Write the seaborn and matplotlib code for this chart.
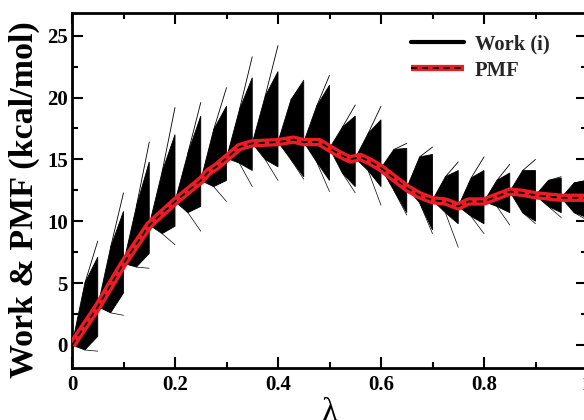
import numpy as np
import pandas as pd
import matplotlib
matplotlib.use("Agg")
import matplotlib.pyplot as plt
from matplotlib.lines import Line2D
from matplotlib.ticker import MultipleLocator, FuncFormatter
import seaborn as sns

# ---- data ----
pmf_lambda = [0.0, 0.05, 0.10, 0.15, 0.20, 0.25, 0.265, 0.28, 0.30, 0.325, 0.35, 0.40,
              0.43, 0.45, 0.48, 0.50, 0.52, 0.54, 0.55, 0.56, 0.58, 0.60, 0.625, 0.65,
              0.675, 0.70, 0.725, 0.75, 0.77, 0.80, 0.825, 0.85, 0.875, 0.90, 0.95, 1.0]
pmf_value = [0.0, 3.1, 6.6, 9.7, 11.6, 13.3, 14.0, 14.4, 15.1, 16.0, 16.3, 16.4,
             16.6, 16.4, 16.4, 15.9, 15.4, 15.0, 15.1, 15.2, 14.8, 14.3, 13.5, 12.7,
             12.1, 11.7, 11.6, 11.2, 11.6, 11.6, 12.0, 12.4, 12.3, 12.1, 11.9, 11.9]

# work fans, one per window of width 0.05 (values at window start, middle and end)
win_start = [0.00, 0.05, 0.10, 0.15, 0.20, 0.25, 0.30, 0.35, 0.40, 0.45,
             0.50, 0.55, 0.60, 0.65, 0.70, 0.75, 0.80, 0.85, 0.90, 0.95]
win_width = 0.05
fan_start = [0.0, 3.1, 6.6, 9.7, 11.6, 13.3, 15.1, 16.3, 16.4, 16.4,
             15.9, 15.1, 14.3, 12.7, 11.7, 11.2, 11.6, 12.4, 12.1, 11.9]
fan_top_mid = [5.0, 7.9, 11.2, 14.0, 15.5, 17.4, 19.0, 20.1, 19.8, 19.3,
               17.6, 17.1, 15.8, 15.2, 13.6, 13.5, 13.3, 14.1, 13.3, 13.1]
fan_top = [7.1, 10.8, 14.8, 17.0, 18.5, 19.3, 21.6, 22.1, 21.3, 21.0,
           18.5, 18.2, 15.9, 15.4, 14.1, 14.1, 13.9, 14.1, 13.5, 13.3]
fan_peak = [8.4, 12.3, 16.4, 19.2, 19.6, 20.8, 23.3, 24.2, 21.4, 21.8,
            19.4, 19.3, 16.3, 16.0, 14.8, 15.2, 14.6, 15.0, 13.6, 13.3]
fan_low_mid = [-0.4, 2.6, 6.3, 9.0, 10.7, 12.8, 14.7, 15.0, 15.0, 14.8,
               13.9, 14.1, 12.5, 11.5, 10.7, 10.4, 11.2, 10.7, 11.2, 10.7]
fan_low = [0.7, 4.2, 7.4, 9.6, 11.2, 13.3, 14.1, 14.4, 13.6, 13.3,
           12.8, 12.8, 10.7, 9.3, 9.8, 9.8, 10.7, 10.0, 10.7, 10.3]
fan_tail = [-0.5, 2.4, 6.2, 8.1, 9.2, 11.6, 12.8, 13.3, 13.4, 12.4,
            12.3, 11.3, 10.5, 9.0, 7.9, 9.0, 9.7, 9.8, 10.3, 10.1]

x_ticks = [0, 0.2, 0.4, 0.6, 0.8, 1.0]
y_ticks = [0, 5, 10, 15, 20, 25]

# ---- style ----
sns.set_theme(style="ticks")
plt.rcParams["font.family"] = ["Liberation Serif", "DejaVu Serif"]
plt.rcParams["font.weight"] = "bold"
plt.rcParams["axes.labelweight"] = "bold"

fig = plt.figure(figsize=(5.84, 4.20), dpi=100)
ax = fig.add_axes([72 / 584, 52 / 420, 515 / 584, 355.3 / 420])

# work fans
for x0, s, tm, t, p, lm, lo, tl in zip(win_start, fan_start, fan_top_mid, fan_top,
                                       fan_peak, fan_low_mid, fan_low, fan_tail):
    xm = x0 + win_width / 2
    x1 = x0 + win_width
    ax.fill([x0, xm, x1, x1, xm], [s, tm, t, lo, lm], color="black", lw=0.6, zorder=1)
    ax.plot([xm, x1], [tm, p], color="black", lw=0.6, zorder=1)
    ax.plot([xm, x1], [lm, tl], color="black", lw=0.5, zorder=1)

df = pd.DataFrame({"lam": pmf_lambda, "pmf": pmf_value})
sns.lineplot(data=df, x="lam", y="pmf", color="#ed1c24", lw=6, ax=ax, zorder=3,
             solid_capstyle="butt")
sns.lineplot(data=df, x="lam", y="pmf", color="black", lw=1.3, ax=ax, zorder=4,
             dashes=False, linestyle=(0, (3.5, 2.5)))

ax.set_xlim(0, 1)
ax.set_ylim(-1.86, 26.86)
ax.set_xticks(x_ticks)
ax.set_yticks(y_ticks)
ax.xaxis.set_minor_locator(MultipleLocator(0.1))
ax.yaxis.set_minor_locator(MultipleLocator(2.5))
ax.xaxis.set_major_formatter(FuncFormatter(lambda v, p: "%g" % v))
ax.tick_params(which="both", direction="in", top=True, right=True, width=1.5,
               labelsize=15, color="black", labelcolor="black")
ax.tick_params(which="major", length=8, pad=5)
ax.tick_params(which="minor", length=4.5)
ax.tick_params(axis="y", which="major", pad=3)
for lab in ax.get_xticklabels() + ax.get_yticklabels():
    lab.set_fontweight("bold")
for sp in ax.spines.values():
    sp.set_linewidth(2)
    sp.set_color("black")

ax.set_xlabel("λ", fontsize=24, fontweight="normal", labelpad=2, color="black")
ax.set_ylabel("Work & PMF (kcal/mol)", fontsize=24.5, fontweight="bold", labelpad=5,
              color="black")
ax.yaxis.label.set_y(0.475)

h_work = Line2D([], [], color="black", lw=3)
h_red = Line2D([], [], color="#ed1c24", lw=4.5, solid_capstyle="butt")
h_dash = Line2D([], [], color="black", lw=1.3, linestyle=(0, (3.5, 2.5)))
ax.legend([h_work, (h_red, h_dash)], ["Work (i)", "PMF"], loc="upper left",
          bbox_to_anchor=(0.658, 0.94), frameon=False,
          handlelength=2.6, handletextpad=0.5, labelspacing=0.32,
          borderpad=0, borderaxespad=0,
          prop={"weight": "bold", "size": 14.8, "family": "Liberation Serif"})

fig.savefig("out.png", dpi=100)
